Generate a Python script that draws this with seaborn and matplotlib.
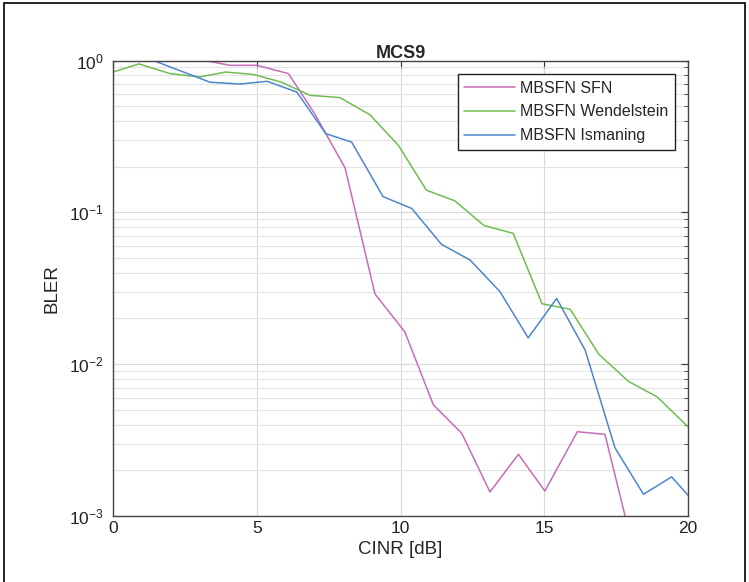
import matplotlib
matplotlib.use('Agg')
import matplotlib.pyplot as plt
from matplotlib.patches import Rectangle
from matplotlib.ticker import LogLocator, NullFormatter
import seaborn as sns
import pandas as pd

# values (CINR in dB, BLER)
sfn_x = [0, 1, 2, 3.2, 4.06, 5.0, 6.1, 7.0, 8.07, 9.11, 10.15, 11.14, 12.13, 13.11, 14.1, 15.02, 16.15, 17.11, 18.1]
sfn_y = [1.0, 1.0, 1.0, 1.0, 0.93, 0.93, 0.82, 0.45, 0.196, 0.029, 0.0163, 0.0054, 0.0035, 0.00144, 0.00255, 0.00146, 0.00359, 0.00345, 0.0006]

wen_x = [0, 0.9, 1.98, 3.02, 3.92, 4.88, 5.86, 6.85, 7.89, 8.93, 9.92, 10.9, 11.89, 12.9, 13.92, 14.92, 15.9, 16.9, 17.93, 18.92, 20.0]
wen_y = [0.84, 0.95, 0.82, 0.78, 0.84, 0.81, 0.72, 0.59, 0.57, 0.44, 0.277, 0.14, 0.119, 0.082, 0.0727, 0.025, 0.023, 0.0116, 0.0077, 0.0061, 0.00387]

ism_x = [0, 1.4, 2.38, 3.37, 4.41, 5.36, 6.39, 7.4, 8.3, 9.39, 10.39, 11.42, 12.42, 13.46, 14.44, 15.43, 16.42, 17.46, 18.45, 19.43, 20.0]
ism_y = [1.0, 1.0, 0.85, 0.72, 0.70, 0.73, 0.62, 0.33, 0.29, 0.127, 0.106, 0.0616, 0.0485, 0.030, 0.0149, 0.0271, 0.0124, 0.00281, 0.00139, 0.00181, 0.00137]

names = ['MBSFN SFN', 'MBSFN Wendelstein', 'MBSFN Ismaning']
colors = ['#c86cb8', '#6fbd52', '#4c86cc']

df = pd.concat([
    pd.DataFrame({'CINR': sfn_x, 'BLER': sfn_y, 'series': names[0]}),
    pd.DataFrame({'CINR': wen_x, 'BLER': wen_y, 'series': names[1]}),
    pd.DataFrame({'CINR': ism_x, 'BLER': ism_y, 'series': names[2]}),
], ignore_index=True)

sns.set_style('white')
plt.rcParams['font.family'] = ['Liberation Sans', 'DejaVu Sans']
plt.rcParams['mathtext.default'] = 'regular'

fig = plt.figure(figsize=(7.49, 5.82), dpi=100)
ax = fig.add_axes([0.151, 0.1134, 0.7676, 0.7826])

sns.lineplot(data=df, x='CINR', y='BLER', hue='series', hue_order=names,
             palette=dict(zip(names, colors)), estimator=None, sort=False,
             linewidth=1.1, ax=ax)

ax.set_yscale('log')
ax.set_xlim(0, 20)
ax.set_ylim(1e-3, 1)
ax.set_xticks([0, 5, 10, 15, 20])
ax.yaxis.set_major_locator(LogLocator(base=10, numticks=10))
ax.yaxis.set_minor_locator(LogLocator(base=10, subs=range(2, 10), numticks=20))
ax.yaxis.set_minor_formatter(NullFormatter())

ax.grid(True, which='major', color='#d9d9d9', linewidth=0.8)
ax.grid(True, which='minor', axis='y', color='#e3e3e3', linewidth=0.8)
ax.set_axisbelow(True)
ax.tick_params(which='both', direction='in', top=True, right=True, colors='#333333',
               labelcolor='#222222', labelsize=12.5)
ax.tick_params(which='major', length=5)
ax.tick_params(which='minor', length=3)
ax.tick_params(axis='y', pad=7)
for s in ax.spines.values():
    s.set_color('#444444')
    s.set_linewidth(1.0)

ax.set_title('MCS9', fontsize=13, fontweight='bold', pad=2)
ax.set_xlabel('CINR [dB]', fontsize=13.5, labelpad=4)
ax.set_ylabel('BLER', fontsize=13.5, labelpad=6)

leg = ax.legend(loc='upper right', bbox_to_anchor=(0.977, 0.970), borderaxespad=0,
                fontsize=11.5, frameon=True, fancybox=False, framealpha=1,
                edgecolor='#222222', handlelength=3.2, handletextpad=0.3,
                labelspacing=0.55, borderpad=0.4)
leg.get_frame().set_linewidth(1.0)

fig.patches.append(Rectangle((0.005, -0.01), 0.99, 1.005, transform=fig.transFigure,
                             fill=False, edgecolor='black', linewidth=1.2))

fig.savefig('out.png', dpi=100)
